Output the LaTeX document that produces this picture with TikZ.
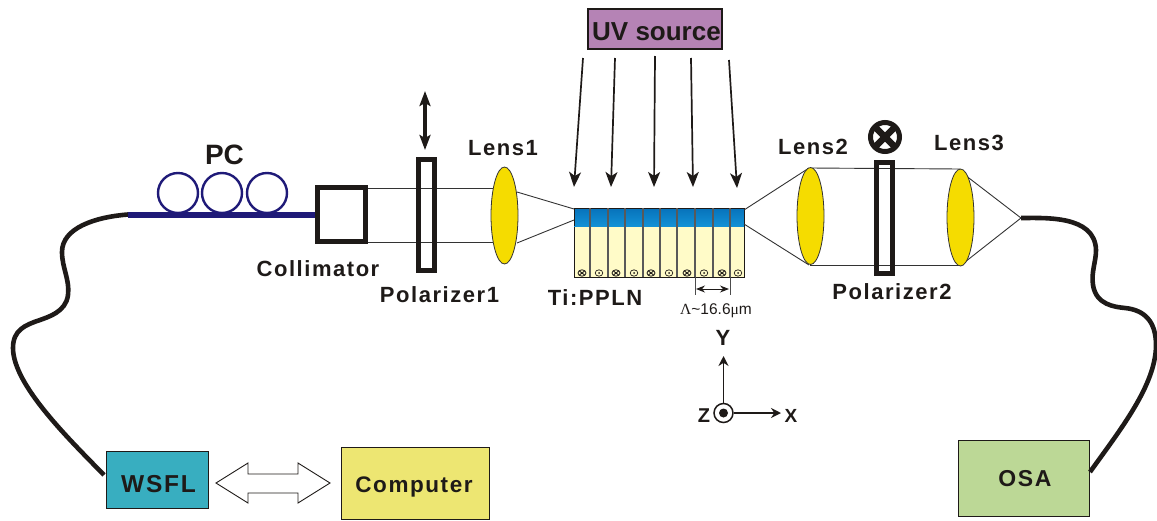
\documentclass[tikz,border=0pt]{standalone}
\usepackage{fontspec}
\setmainfont{Liberation Sans}[BoldFeatures={LetterSpace=7}]
\newfontfamily\plainsans{Liberation Sans}
\newfontfamily\serifgr{Liberation Serif}
\usetikzlibrary{arrows.meta,shapes.geometric}
\definecolor{fibercol}{HTML}{1E1A18}
\definecolor{barcol}{HTML}{1F1A78}
\definecolor{lenscol}{HTML}{F5DC00}
\definecolor{xtalcol}{HTML}{FFFBC8}
\definecolor{bluetop}{HTML}{0772BA}
\definecolor{bluebot}{HTML}{1291D6}
\definecolor{inkcol}{HTML}{1E1A18}
\tikzset{
  lbl/.style={font=\fontsize{22}{22}\selectfont\bfseries,text=inkcol,inner sep=0pt},
  boxnode/.style={draw=inkcol,line width=1.3pt,inner sep=0pt,text=inkcol},
  lensnode/.style={draw=black!80,line width=0.8pt,fill=lenscol,ellipse,minimum width=27pt,minimum height=97pt,inner sep=0pt},
  polar/.style={draw=inkcol,line width=5pt,inner sep=0pt,fill=none},
  ray/.style={draw=black!80,line width=0.9pt},
  fiber/.style={draw=fibercol,line width=4.6pt},
  uvarrow/.style={draw=inkcol,line width=1.7pt,-{Stealth[length=15pt,width=12pt,inset=4pt]}},
  coil/.style={draw=barcol,line width=2.4pt,circle,minimum size=40pt,inner sep=0pt},
}
\begin{document}
\begin{tikzpicture}[x=1pt,y=-1pt]
\useasboundingbox (0,0) rectangle (1157,520);
% boxes
\node[boxnode,fill={rgb,255:red,56;green,174;blue,192},minimum width=102pt,minimum height=57pt,font=\fontsize{24.5}{24.5}\selectfont\bfseries] (wsfl) at (157.5,480) {\raisebox{-12.3pt}[0pt][0pt]{\hspace{2pt}WSFL}};
\node[boxnode,fill={rgb,255:red,237;green,230;blue,114},minimum width=148pt,minimum height=72pt,font=\fontsize{22.5}{22.5}\selectfont\bfseries] (comp) at (415.5,483.5) {\raisebox{-8.6pt}[0pt][0pt]{\hspace{-3pt}Computer}};
\node[boxnode,fill={rgb,255:red,188;green,216;blue,150},minimum width=131pt,minimum height=76pt,font=\fontsize{23}{23}\selectfont\bfseries] (osa) at (1024,478.5) {\raisebox{-8.3pt}[0pt][0pt]{\hspace{2pt}OSA}};
\node[boxnode,fill={rgb,255:red,181;green,131;blue,181},minimum width=134pt,minimum height=40pt,font=\plainsans\fontsize{26}{26}\selectfont\bfseries] (uv) at (655,29) {\raisebox{-11.4pt}[0pt][0pt]{\hspace{3pt}UV source}};
% hollow double arrow
\draw[draw=inkcol,line width=0.9pt,fill=white] (216,483) -- (248,463) -- (248,474) -- (298,474) -- (298,463) -- (330,483) -- (298,503) -- (298,493) -- (248,493) -- (248,503) -- cycle;
% fibres
\coordinate (fl) at (128,214.5);
\coordinate (fr) at (1021,218);
\coordinate (fle) at (104,475);
\coordinate (fre) at (1090,472);
\draw[fiber] (fl) .. controls (95,217) and (62,228) .. (62,252) .. controls (62,268) and (70,280) .. (68,295) .. controls (66,312) and (48,317) .. (40,320) .. controls (25,325) and (13,330) .. (13,348) .. controls (13,385) and (70,440) .. (fle);
\draw[fiber] (fr) .. controls (1045,218) and (1095,215) .. (1096,250) .. controls (1096,262) and (1091,272) .. (1093,285) .. controls (1096,305) and (1115,307) .. (1125,308) .. controls (1145,310) and (1156,322) .. (1156,345) .. controls (1156,385) and (1120,430) .. (fre);
% PC
\foreach \n/\x in {a/178,b/222,c/267}{\node[coil] (coil\n) at (\x,193) {};}
\draw[draw=barcol,line width=6pt] (fl) -- (320,214.5) coordinate (bare);
\node[draw=inkcol,line width=5.3pt,minimum width=48pt,minimum height=54pt,inner sep=0pt] (coll) at (341.5,214.5) {};
\node[lbl,font=\plainsans\fontsize{28}{28}\selectfont\bfseries] (pc) at (224.5,155) {PC};
\node[lbl] (colltxt) at (318,269) {Collimator};
% collimated beam
\node[lensnode] (l1) at (504.5,215.5) {};
\draw[ray] (coll.east |- 0,188) -- (493,188);
\draw[ray] (coll.east |- 0,242) -- (493,242);
% polarizer 1
\node[polar,minimum width=16pt,minimum height=111pt] (p1) at (426.5,215) {};
\coordinate (p1a) at (425,91);
\coordinate (p1b) at (425,150);
\draw[draw=inkcol,line width=3.6pt,{Stealth[length=15pt,width=11pt,inset=3pt]}-{Stealth[length=15pt,width=11pt,inset=3pt]}] (p1a) -- (p1b);
\node[lbl] (p1t) at (439.5,295) {Polarizer1};
\node[lbl] (l1t) at (503,148) {Lens1};
% crystal
\node[draw=inkcol,line width=1pt,fill=xtalcol,minimum width=170pt,minimum height=69pt,inner sep=0pt] (xtal) at (659,242.5) {};
\shade[top color=bluetop,bottom color=bluebot] (574,208) rectangle (744,226);
\draw[draw=inkcol,line width=1pt] (574,208) -- (744,208) (574,208) -- (574,226) (744,208) -- (744,226);
\foreach \x in {590,608,625,643,660,677,695,713,730}{\draw[draw=black!65,line width=1.3pt] (\x,208) -- (\x,277);}
\foreach \x in {582,616,651,687,722}{
  \draw[inkcol,line width=0.8pt] (\x,273) ellipse (4 and 3.2);
  \draw[inkcol,line width=0.9pt] (\x-2.6,271) -- (\x+2.6,275) (\x-2.6,275) -- (\x+2.6,271);
}
\foreach \x in {599,634,669,704,738}{
  \draw[inkcol,line width=0.7pt] (\x,273) ellipse (3.8 and 3.2);
  \fill[inkcol] (\x,273) circle (1);
}
\draw[ray] (517,192) -- (574,209);
\draw[ray] (517,243) -- (574,220);
\node[lbl] (xt) at (595,298) {Ti:PPLN};
% period
\draw[draw=black!70,line width=1pt] (695,277) -- (695,295) (730,277) -- (730,295);
\draw[draw=inkcol,line width=1pt,{Stealth[length=9pt,width=7pt]}-{Stealth[length=9pt,width=7pt]}] (696,289) -- (729,289);
\node[inner sep=0pt,font=\fontsize{15.5}{15.5}\selectfont,text=inkcol] (lam) at (716,311) {{\serifgr Λ}\textasciitilde16.6{\serifgr μ}m};
% UV arrows
\foreach \n/\sx/\sy/\ex/\ey in {a/583/58/574/187,b/615/58/611/187,c/655/56/654/187,d/691/58/693/187,e/729/60/737/188}{
  \coordinate (us\n) at (\sx,\sy);
  \coordinate (ue\n) at (\ex,\ey);
  \draw[uvarrow] (us\n) -- (ue\n);
}
% right optics
\draw[ray] (744,210) -- (809,168);
\draw[ray] (744,224) -- (809,265);
\draw[ray] (810,168) -- (960,169);
\draw[ray] (810,265) -- (960,265);
\node[polar,minimum width=16pt,minimum height=111pt] (p2) at (884.5,218) {};
\draw[ray] (965,175) -- (fr);
\draw[ray] (965,262) -- (fr);
\node[lensnode] (l2) at (810.5,216) {};
\node[lensnode] (l3) at (960.5,217.5) {};
\node[lbl] (l2t) at (813,147) {Lens2};
\node[lbl] (l3t) at (969,143) {Lens3};
\node[lbl] (p2t) at (892,292) {Polarizer2};
% crossed polarisation
\node[circle,draw=inkcol,line width=5pt,minimum size=29pt,inner sep=0pt] (cross) at (885,137) {};
\draw[inkcol,line width=6.5pt] (876,128) -- (894,146) (876,146) -- (894,128);
% axes
\node[circle,draw=inkcol,line width=1.5pt,minimum size=19pt,inner sep=0pt] (zc) at (723.5,413) {};
\fill[inkcol] (zc) circle (4.5);
\coordinate (ya) at (723.5,356);
\coordinate (xa) at (781,413);
\draw[draw=inkcol,line width=1.7pt,-{Stealth[length=10pt,width=10pt]}] (zc.north) -- (ya);
\draw[draw=inkcol,line width=1.7pt,-{Stealth[length=10pt,width=10pt]}] (zc.east) -- (xa);
\node[lbl] (yl) at (723,338) {Y};
\node[lbl,font=\fontsize{20}{20}\selectfont\bfseries] (zl) at (704,416) {Z};
\node[lbl,font=\fontsize{19}{19}\selectfont\bfseries] (xl) at (791,416) {X};
\end{tikzpicture}
\end{document}
